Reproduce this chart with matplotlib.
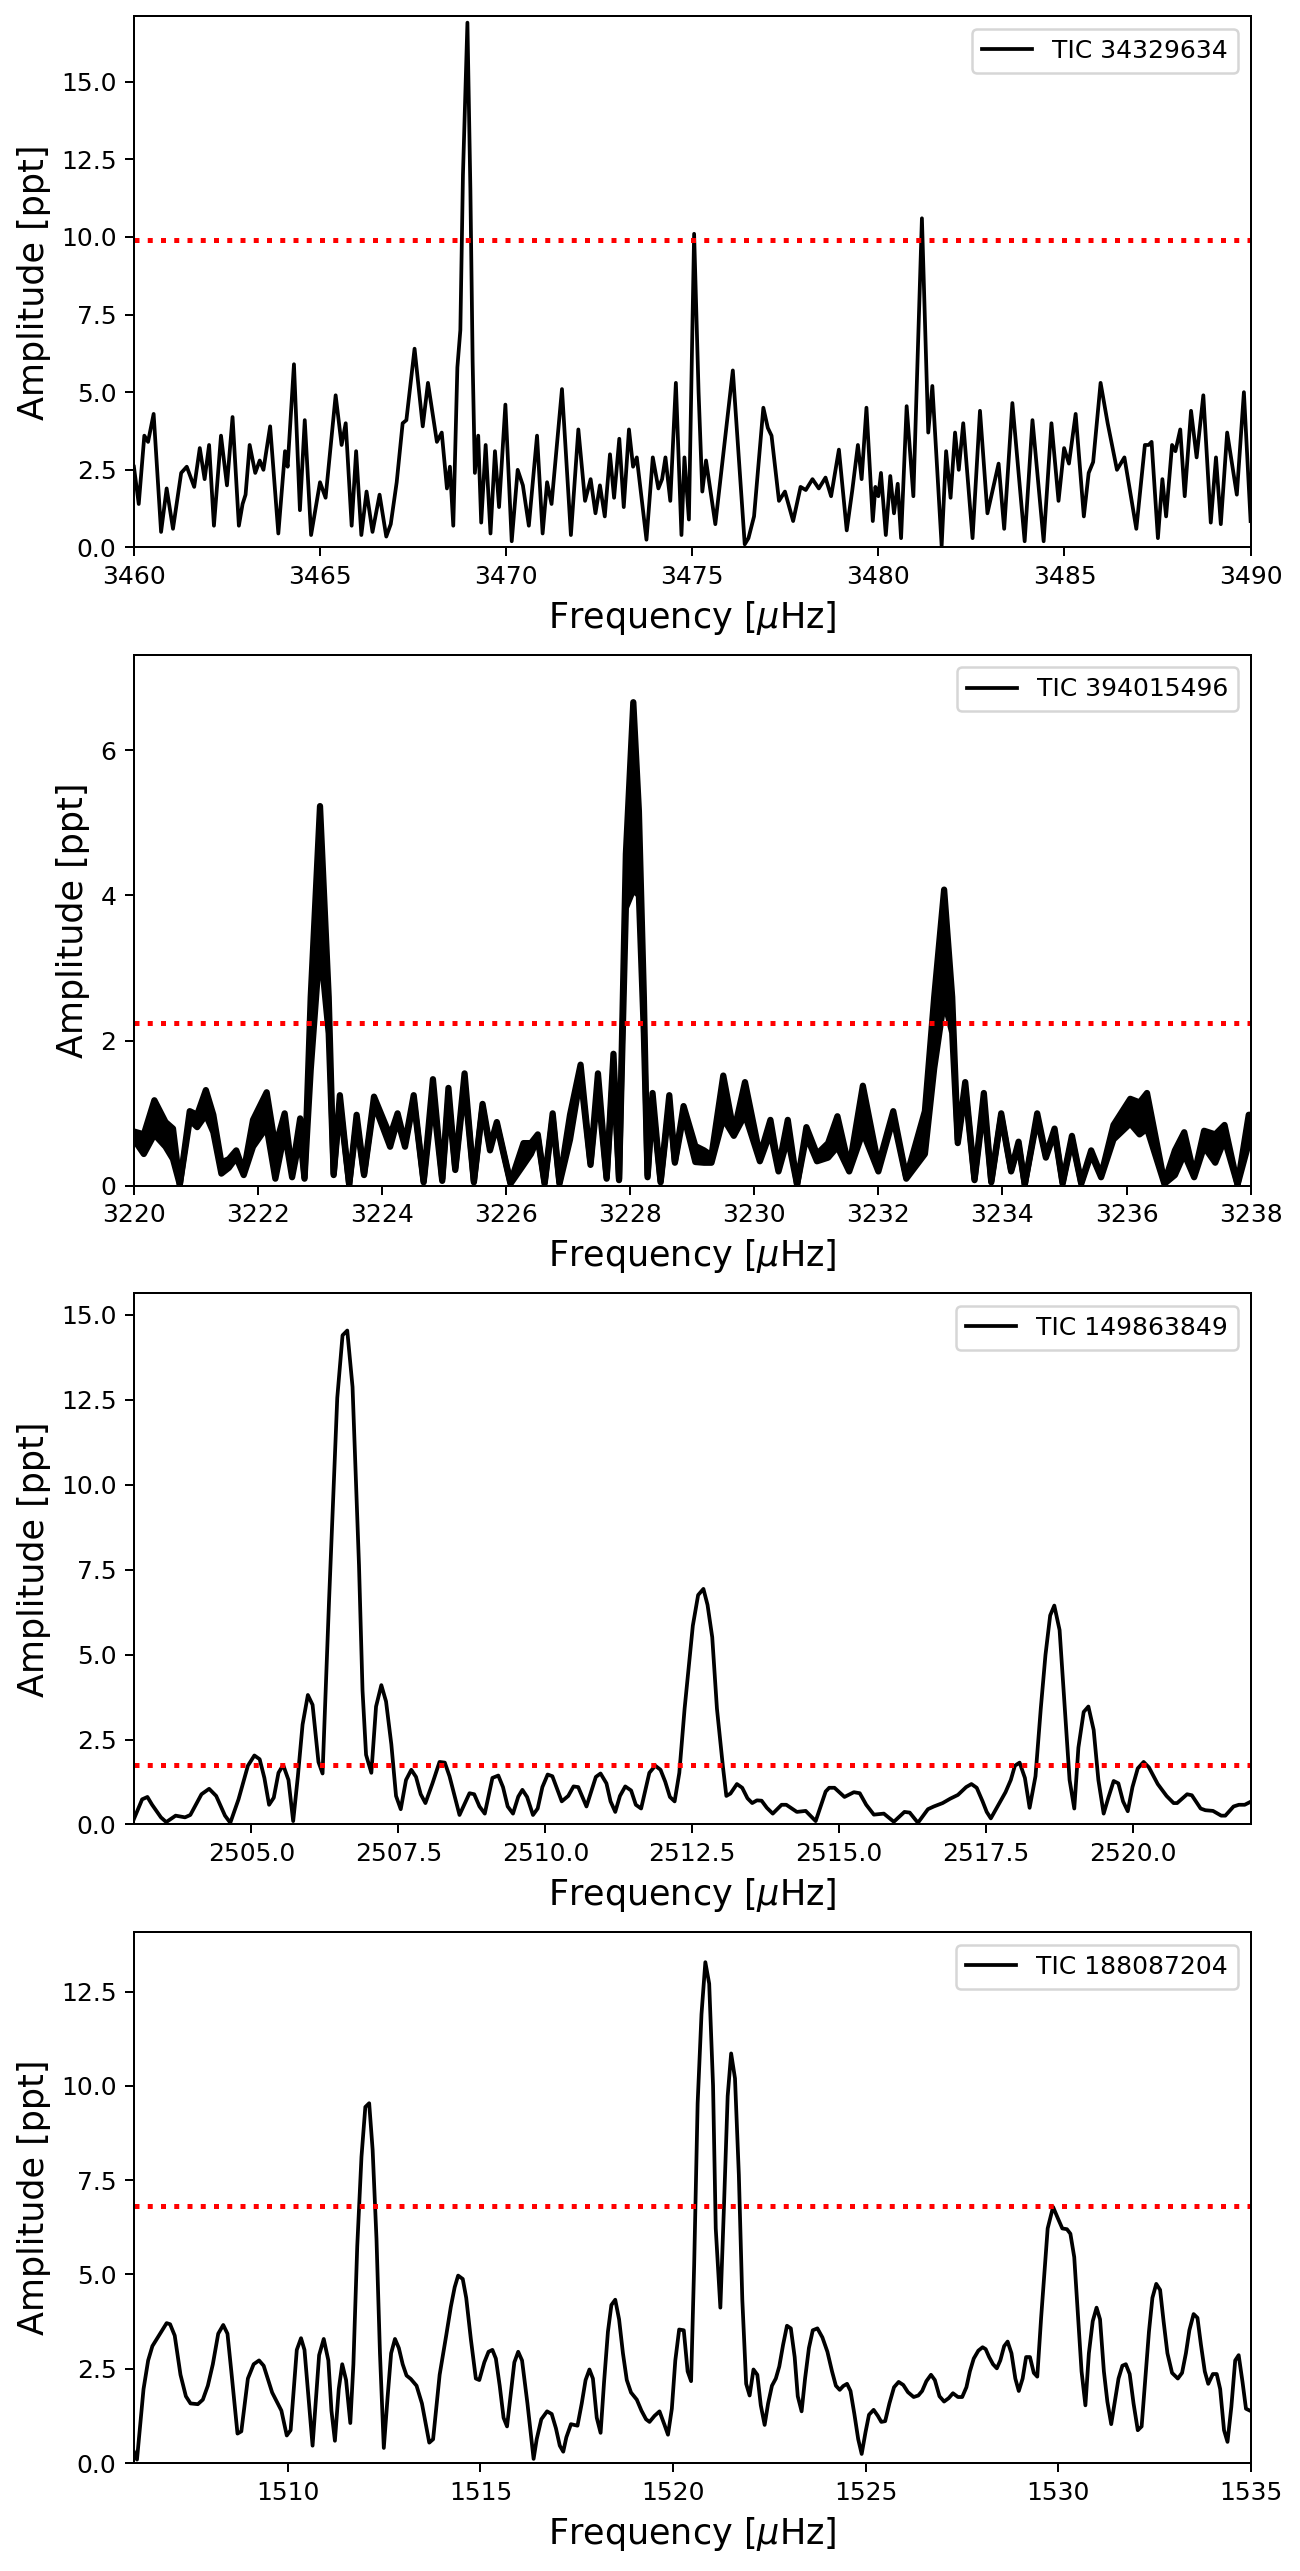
import matplotlib
matplotlib.use("Agg")
import matplotlib.pyplot as plt
from matplotlib.ticker import MultipleLocator

# ---------------- Panel 1: TIC 34329634 ----------------
p1_label = "TIC 34329634"
p1_freq = [3460.00, 3460.13, 3460.28, 3460.38, 3460.53, 3460.73, 3460.88, 3461.05, 3461.27, 3461.42,
           3461.62, 3461.77, 3461.90, 3462.02, 3462.15, 3462.34, 3462.50, 3462.65, 3462.82, 3462.92,
           3463.00, 3463.11, 3463.26, 3463.38, 3463.48, 3463.66, 3463.88, 3464.06, 3464.13, 3464.30,
           3464.46, 3464.59, 3464.76, 3465.00, 3465.15, 3465.42, 3465.58, 3465.69, 3465.85, 3465.97,
           3466.11, 3466.25, 3466.41, 3466.60, 3466.78, 3466.90, 3467.06, 3467.22, 3467.32, 3467.54,
           3467.76, 3467.90, 3468.14, 3468.27, 3468.41, 3468.49, 3468.58, 3468.69, 3468.77, 3468.84,
           3468.96, 3469.04, 3469.10, 3469.16, 3469.25, 3469.33, 3469.45, 3469.58, 3469.70, 3469.81,
           3469.98, 3470.15, 3470.31, 3470.45, 3470.61, 3470.83, 3470.98, 3471.10, 3471.22, 3471.50,
           3471.74, 3471.94, 3472.12, 3472.27, 3472.40, 3472.52, 3472.65, 3472.79, 3472.90, 3473.04,
           3473.16, 3473.30, 3473.41, 3473.51, 3473.77, 3473.94, 3474.09, 3474.19, 3474.28, 3474.41,
           3474.56, 3474.71, 3474.79, 3474.91, 3475.05, 3475.17, 3475.27, 3475.37, 3475.62, 3476.09,
           3476.41, 3476.51, 3476.66, 3476.91, 3477.03, 3477.13, 3477.33, 3477.49, 3477.71, 3477.91,
           3478.05, 3478.23, 3478.40, 3478.58, 3478.73, 3478.94, 3479.15, 3479.30, 3479.45, 3479.55,
           3479.68, 3479.85, 3479.92, 3480.00, 3480.07, 3480.20, 3480.32, 3480.42, 3480.52, 3480.61,
           3480.76, 3480.94, 3481.17, 3481.34, 3481.45, 3481.70, 3481.82, 3481.94, 3482.06, 3482.16,
           3482.28, 3482.53, 3482.73, 3482.93, 3483.23, 3483.38, 3483.60, 3483.93, 3484.14, 3484.44,
           3484.65, 3484.84, 3484.99, 3485.12, 3485.30, 3485.52, 3485.65, 3485.77, 3485.97, 3486.16,
           3486.41, 3486.61, 3486.93, 3487.16, 3487.26, 3487.34, 3487.51, 3487.63, 3487.73, 3487.89,
           3487.98, 3488.11, 3488.23, 3488.40, 3488.55, 3488.73, 3488.93, 3489.07, 3489.20, 3489.37,
           3489.63, 3489.82, 3490.00]
p1_amp = [2.60, 1.40, 3.60, 3.40, 4.30, 0.50, 1.90, 0.60, 2.40, 2.60,
          1.95, 3.20, 2.20, 3.30, 0.70, 3.60, 2.00, 4.20, 0.70, 1.40,
          1.70, 3.30, 2.40, 2.80, 2.50, 3.90, 0.45, 3.10, 2.60, 5.90,
          1.20, 4.10, 0.40, 2.10, 1.60, 4.90, 3.30, 4.00, 0.70, 3.10,
          0.40, 1.80, 0.50, 1.70, 0.35, 0.75, 2.10, 4.00, 4.10, 6.40,
          3.90, 5.30, 3.40, 3.70, 1.90, 2.60, 0.70, 5.80, 7.00, 12.00,
          16.90, 11.50, 6.00, 2.40, 3.60, 0.80, 3.30, 0.45, 3.10, 1.30,
          4.60, 0.20, 2.50, 2.00, 0.70, 3.60, 0.45, 2.10, 1.40, 5.10,
          0.40, 3.80, 1.50, 2.20, 1.10, 2.00, 1.00, 3.00, 1.60, 3.50,
          1.30, 3.80, 2.60, 2.90, 0.25, 2.90, 1.90, 2.20, 2.90, 1.50,
          5.30, 0.40, 2.90, 0.90, 10.10, 5.00, 1.80, 2.80, 0.75, 5.70,
          0.10, 0.30, 1.00, 4.50, 3.85, 3.60, 1.50, 1.80, 0.85, 1.95,
          1.85, 2.20, 1.90, 2.25, 1.65, 3.15, 0.55, 1.85, 3.30, 2.20,
          4.50, 0.85, 1.95, 1.65, 2.40, 0.40, 2.30, 1.10, 2.05, 0.30,
          4.55, 1.65, 10.60, 3.70, 5.20, 0.05, 3.10, 1.60, 3.70, 2.50,
          4.00, 0.30, 4.40, 1.10, 2.70, 0.60, 4.65, 0.20, 4.10, 0.20,
          4.00, 1.50, 3.20, 2.70, 4.30, 1.00, 2.40, 2.75, 5.30, 4.00,
          2.50, 2.90, 0.60, 3.30, 3.30, 3.40, 0.30, 2.20, 1.00, 3.30,
          3.10, 3.80, 1.65, 4.40, 2.90, 4.90, 0.80, 2.90, 0.75, 3.70,
          1.70, 5.00, 0.85]
p1_threshold = 9.89
p1_xlim = (3460, 3490)
p1_ylim = (0, 17.1)

# ---------------- Panel 2: TIC 394015496 (thick band: upper / lower envelopes) ----------------
p2_label = "TIC 394015496"
p2_freq = [3220.00, 3220.16, 3220.33, 3220.51, 3220.63, 3220.74, 3220.90, 3221.02, 3221.16, 3221.28,
           3221.41, 3221.53, 3221.65, 3221.77, 3221.92, 3222.14, 3222.28, 3222.43, 3222.55, 3222.68,
           3222.75, 3222.85, 3223.00, 3223.14, 3223.22, 3223.32, 3223.47, 3223.59, 3223.71, 3223.87,
           3224.13, 3224.25, 3224.37, 3224.51, 3224.67, 3224.82, 3224.97, 3225.07, 3225.18, 3225.33,
           3225.48, 3225.62, 3225.74, 3225.85, 3226.07, 3226.28, 3226.40, 3226.51, 3226.62, 3226.75,
           3226.86, 3227.03, 3227.20, 3227.36, 3227.48, 3227.62, 3227.73, 3227.82, 3227.93, 3228.05,
           3228.14, 3228.22, 3228.28, 3228.36, 3228.49, 3228.63, 3228.72, 3228.86, 3229.05, 3229.19,
           3229.31, 3229.50, 3229.67, 3229.85, 3230.09, 3230.26, 3230.39, 3230.54, 3230.69, 3230.84,
           3231.01, 3231.19, 3231.34, 3231.53, 3231.75, 3232.00, 3232.24, 3232.45, 3232.75, 3232.90,
           3233.06, 3233.19, 3233.28, 3233.40, 3233.55, 3233.70, 3233.82, 3233.98, 3234.14, 3234.26,
           3234.36, 3234.56, 3234.70, 3234.84, 3234.97, 3235.12, 3235.27, 3235.43, 3235.59, 3235.79,
           3236.06, 3236.21, 3236.33, 3236.61, 3236.78, 3236.93, 3237.09, 3237.25, 3237.43, 3237.58,
           3237.79, 3237.97, 3238.00]
p2_upper = [0.75, 0.71, 1.18, 0.88, 0.79, 0.02, 1.03, 0.98, 1.32, 0.98,
            0.32, 0.37, 0.49, 0.20, 0.91, 1.29, 0.54, 1.00, 0.20, 0.93,
            0.12, 2.60, 5.23, 2.60, 0.17, 1.25, 0.02, 0.98, 0.17, 1.23,
            0.69, 1.00, 0.59, 1.25, 0.07, 1.47, 0.10, 1.35, 0.25, 1.55,
            0.07, 1.13, 0.54, 0.88, 0.05, 0.59, 0.59, 0.71, 0.05, 1.00,
            0.05, 0.98, 1.67, 0.32, 1.55, 0.12, 1.82, 0.10, 4.57, 6.66,
            5.16, 2.60, 0.15, 1.28, 0.07, 1.25, 0.34, 1.10, 0.55, 0.49,
            0.42, 1.52, 0.74, 1.43, 0.42, 0.91, 0.25, 0.91, 0.02, 0.81,
            0.44, 0.59, 0.96, 0.25, 1.38, 0.29, 1.03, 0.12, 1.03, 2.60,
            4.08, 2.60, 0.64, 1.43, 0.10, 1.28, 0.07, 1.00, 0.22, 0.61,
            0.02, 1.00, 0.42, 0.79, 0.05, 0.69, 0.05, 0.49, 0.15, 0.84,
            1.20, 1.15, 1.28, 0.05, 0.49, 0.74, 0.15, 0.76, 0.71, 0.84,
            0.02, 0.98, 0.98]
p2_lower = [0.64, 0.44, 0.71, 0.54, 0.37, 0.02, 0.91, 0.81, 0.98, 0.74,
            0.17, 0.25, 0.39, 0.15, 0.54, 0.81, 0.10, 0.74, 0.12, 0.69,
            0.10, 1.60, 3.34, 2.10, 0.15, 1.13, 0.02, 0.88, 0.15, 1.13,
            0.54, 0.91, 0.54, 1.18, 0.05, 1.23, 0.07, 1.20, 0.22, 1.40,
            0.05, 1.08, 0.49, 0.84, 0.03, 0.29, 0.44, 0.66, 0.03, 0.93,
            0.03, 0.64, 1.52, 0.29, 1.33, 0.10, 1.62, 0.08, 3.83, 4.08,
            4.00, 2.10, 0.12, 1.13, 0.05, 1.13, 0.32, 0.98, 0.33, 0.32,
            0.32, 0.93, 0.69, 0.98, 0.34, 0.74, 0.20, 0.66, 0.02, 0.69,
            0.34, 0.39, 0.54, 0.20, 0.74, 0.20, 0.93, 0.10, 0.44, 1.62,
            2.56, 2.11, 0.59, 1.33, 0.08, 1.13, 0.05, 0.96, 0.20, 0.56,
            0.02, 0.93, 0.39, 0.74, 0.03, 0.64, 0.03, 0.44, 0.12, 0.64,
            0.86, 0.71, 0.79, 0.03, 0.15, 0.44, 0.12, 0.54, 0.32, 0.64,
            0.02, 0.59, 0.60]
p2_threshold = 2.245
p2_xlim = (3220, 3238)
p2_ylim = (0, 7.31)

# ---------------- Panel 3: TIC 149863849 ----------------
p3_label = "TIC 149863849"
p3_freq = [2503.00, 2503.14, 2503.23, 2503.31, 2503.46, 2503.55, 2503.71, 2503.87, 2503.96, 2504.15,
           2504.28, 2504.40, 2504.55, 2504.64, 2504.78, 2504.94, 2505.05, 2505.14, 2505.22, 2505.30,
           2505.38, 2505.46, 2505.54, 2505.63, 2505.71, 2505.79, 2505.87, 2505.96, 2506.04, 2506.14,
           2506.21, 2506.32, 2506.46, 2506.55, 2506.63, 2506.72, 2506.83, 2506.89, 2506.95, 2507.04,
           2507.12, 2507.21, 2507.29, 2507.38, 2507.46, 2507.54, 2507.63, 2507.72, 2507.80, 2507.88,
           2507.96, 2508.08, 2508.20, 2508.29, 2508.37, 2508.54, 2508.71, 2508.79, 2508.88, 2508.97,
           2509.10, 2509.20, 2509.28, 2509.36, 2509.45, 2509.54, 2509.61, 2509.69, 2509.79, 2509.87,
           2509.95, 2510.04, 2510.12, 2510.28, 2510.39, 2510.48, 2510.56, 2510.70, 2510.86, 2510.94,
           2511.04, 2511.11, 2511.19, 2511.27, 2511.36, 2511.46, 2511.54, 2511.63, 2511.77, 2511.87,
           2511.96, 2512.04, 2512.12, 2512.20, 2512.28, 2512.37, 2512.51, 2512.60, 2512.69, 2512.76,
           2512.84, 2512.92, 2513.02, 2513.08, 2513.15, 2513.26, 2513.35, 2513.44, 2513.52, 2513.60,
           2513.68, 2513.77, 2513.87, 2514.02, 2514.10, 2514.28, 2514.43, 2514.60, 2514.77, 2514.83,
           2514.92, 2515.09, 2515.25, 2515.35, 2515.46, 2515.59, 2515.76, 2515.93, 2516.11, 2516.20,
           2516.34, 2516.51, 2516.61, 2516.76, 2516.89, 2517.02, 2517.16, 2517.25, 2517.34, 2517.44,
           2517.51, 2517.58, 2517.71, 2517.83, 2517.92, 2517.99, 2518.07, 2518.16, 2518.24, 2518.34,
           2518.43, 2518.51, 2518.59, 2518.66, 2518.75, 2518.84, 2518.92, 2519.00, 2519.07, 2519.16,
           2519.24, 2519.33, 2519.41, 2519.50, 2519.58, 2519.67, 2519.75, 2519.83, 2519.91, 2519.99,
           2520.08, 2520.18, 2520.27, 2520.42, 2520.57, 2520.69, 2520.75, 2520.92, 2521.00, 2521.15,
           2521.23, 2521.36, 2521.50, 2521.57, 2521.71, 2521.80, 2521.90, 2521.99]
p3_amp = [0.16, 0.74, 0.81, 0.58, 0.21, 0.07, 0.26, 0.21, 0.28, 0.89,
          1.05, 0.84, 0.26, 0.05, 0.74, 1.73, 2.03, 1.92, 1.37, 0.58,
          0.79, 1.52, 1.75, 1.31, 0.10, 1.42, 2.94, 3.81, 3.52, 1.84,
          1.50, 6.57, 12.55, 14.39, 14.53, 12.87, 7.62, 3.94, 2.05, 1.52,
          3.47, 4.10, 3.62, 2.36, 0.84, 0.45, 1.31, 1.61, 1.40, 0.89,
          0.63, 1.21, 1.84, 1.82, 1.42, 0.28, 0.92, 0.89, 0.53, 0.32,
          1.37, 1.44, 1.10, 0.53, 0.32, 0.82, 1.02, 0.81, 0.28, 0.47,
          1.10, 1.47, 1.42, 0.68, 0.84, 1.12, 1.10, 0.53, 1.40, 1.50,
          1.21, 0.68, 0.37, 0.84, 1.12, 1.00, 0.58, 0.47, 1.52, 1.73,
          1.61, 1.26, 0.81, 0.68, 1.52, 3.41, 5.85, 6.75, 6.93, 6.46,
          5.51, 3.41, 1.73, 0.84, 0.91, 1.19, 1.08, 0.77, 0.63, 0.71,
          0.70, 0.49, 0.32, 0.58, 0.58, 0.37, 0.40, 0.10, 0.97, 1.08,
          1.08, 0.81, 0.95, 0.92, 0.58, 0.29, 0.32, 0.08, 0.37, 0.35,
          0.05, 0.45, 0.53, 0.63, 0.76, 0.87, 1.10, 1.19, 1.08, 0.68,
          0.37, 0.18, 0.58, 0.95, 1.31, 1.73, 1.82, 1.37, 0.49, 1.42,
          3.41, 4.99, 6.15, 6.44, 5.72, 3.41, 1.31, 0.47, 2.26, 3.31,
          3.47, 2.78, 1.31, 0.32, 0.79, 1.28, 1.21, 0.68, 0.39, 1.10,
          1.65, 1.84, 1.68, 1.19, 0.84, 0.63, 0.63, 0.89, 0.86, 0.47,
          0.42, 0.40, 0.26, 0.26, 0.53, 0.58, 0.58, 0.66]
p3_threshold = 1.75
p3_xlim = (2503, 2522)
p3_ylim = (0, 15.62)

# ---------------- Panel 4: TIC 188087204 ----------------
p4_label = "TIC 188087204"
p4_freq = [1506.00, 1506.08, 1506.25, 1506.37, 1506.48, 1506.65, 1506.85, 1506.94, 1507.06, 1507.21,
           1507.35, 1507.47, 1507.66, 1507.79, 1507.92, 1508.05, 1508.19, 1508.32, 1508.43, 1508.53,
           1508.69, 1508.79, 1508.96, 1509.11, 1509.25, 1509.37, 1509.59, 1509.71, 1509.83, 1509.97,
           1510.07, 1510.23, 1510.34, 1510.43, 1510.64, 1510.81, 1510.93, 1511.05, 1511.13, 1511.22,
           1511.32, 1511.41, 1511.51, 1511.62, 1511.70, 1511.80, 1511.91, 1512.01, 1512.11, 1512.20,
           1512.30, 1512.39, 1512.49, 1512.59, 1512.68, 1512.78, 1512.88, 1512.98, 1513.08, 1513.19,
           1513.34, 1513.48, 1513.67, 1513.77, 1513.94, 1514.11, 1514.23, 1514.33, 1514.42, 1514.54,
           1514.63, 1514.75, 1514.88, 1514.97, 1515.10, 1515.21, 1515.31, 1515.40, 1515.50, 1515.60,
           1515.69, 1515.79, 1515.88, 1515.98, 1516.08, 1516.22, 1516.38, 1516.46, 1516.58, 1516.73,
           1516.85, 1516.96, 1517.06, 1517.15, 1517.23, 1517.35, 1517.52, 1517.63, 1517.73, 1517.83,
           1517.92, 1518.02, 1518.12, 1518.21, 1518.31, 1518.40, 1518.50, 1518.60, 1518.70, 1518.80,
           1518.91, 1519.06, 1519.18, 1519.30, 1519.39, 1519.52, 1519.65, 1519.78, 1519.87, 1519.97,
           1520.06, 1520.16, 1520.28, 1520.38, 1520.47, 1520.55, 1520.64, 1520.74, 1520.84, 1520.94,
           1521.04, 1521.11, 1521.23, 1521.32, 1521.42, 1521.51, 1521.61, 1521.71, 1521.80, 1521.90,
           1521.99, 1522.09, 1522.19, 1522.28, 1522.38, 1522.47, 1522.57, 1522.67, 1522.76, 1522.86,
           1522.96, 1523.06, 1523.16, 1523.24, 1523.34, 1523.43, 1523.53, 1523.63, 1523.75, 1523.88,
           1524.01, 1524.13, 1524.23, 1524.33, 1524.42, 1524.52, 1524.61, 1524.71, 1524.81, 1524.90,
           1525.00, 1525.09, 1525.21, 1525.32, 1525.41, 1525.51, 1525.62, 1525.74, 1525.86, 1525.98,
           1526.10, 1526.25, 1526.37, 1526.47, 1526.58, 1526.70, 1526.80, 1526.92, 1527.04, 1527.16,
           1527.27, 1527.40, 1527.51, 1527.62, 1527.71, 1527.81, 1527.93, 1528.04, 1528.12, 1528.21,
           1528.31, 1528.41, 1528.50, 1528.60, 1528.69, 1528.79, 1528.89, 1528.98, 1529.08, 1529.17,
           1529.27, 1529.37, 1529.46, 1529.56, 1529.73, 1529.87, 1529.99, 1530.11, 1530.23, 1530.32,
           1530.42, 1530.52, 1530.61, 1530.71, 1530.80, 1530.90, 1531.00, 1531.09, 1531.19, 1531.28,
           1531.38, 1531.48, 1531.57, 1531.67, 1531.76, 1531.86, 1531.96, 1532.07, 1532.17, 1532.26,
           1532.36, 1532.45, 1532.55, 1532.65, 1532.74, 1532.84, 1532.96, 1533.11, 1533.22, 1533.32,
           1533.41, 1533.52, 1533.62, 1533.71, 1533.81, 1533.90, 1534.02, 1534.12, 1534.21, 1534.31,
           1534.40, 1534.50, 1534.60, 1534.69, 1534.79, 1534.88, 1534.98]
p4_amp = [0.30, 0.09, 1.96, 2.72, 3.10, 3.38, 3.71, 3.68, 3.38, 2.34,
          1.77, 1.58, 1.56, 1.68, 2.05, 2.62, 3.43, 3.66, 3.43, 2.43,
          0.78, 0.84, 2.24, 2.62, 2.72, 2.58, 1.87, 1.63, 1.39, 0.73,
          0.87, 3.00, 3.31, 3.00, 0.46, 2.86, 3.29, 2.72, 1.39, 0.59,
          1.96, 2.62, 2.20, 1.06, 2.62, 5.75, 8.12, 9.44, 9.54, 8.30,
          5.94, 2.91, 0.40, 1.77, 2.91, 3.29, 3.05, 2.62, 2.32, 2.23,
          2.05, 1.58, 0.54, 0.63, 2.34, 3.38, 4.14, 4.66, 4.97, 4.88,
          4.38, 3.29, 2.24, 2.20, 2.67, 2.95, 3.00, 2.77, 2.05, 1.20,
          0.97, 1.87, 2.67, 2.95, 2.72, 1.58, 0.11, 0.63, 1.16, 1.37,
          1.30, 0.92, 0.46, 0.30, 0.68, 1.03, 0.99, 1.58, 2.20, 2.48,
          2.24, 1.20, 0.80, 2.15, 3.48, 4.19, 4.33, 3.81, 2.91, 2.20,
          1.87, 1.68, 1.39, 1.16, 1.09, 1.25, 1.37, 1.01, 0.75, 1.44,
          2.72, 3.54, 3.52, 2.43, 2.17, 5.27, 9.54, 11.90, 13.28, 12.71,
          10.01, 6.22, 4.12, 6.70, 9.73, 10.86, 10.20, 7.64, 4.33, 2.10,
          1.79, 2.48, 2.34, 1.53, 1.01, 1.58, 2.05, 2.24, 2.56, 3.14,
          3.64, 3.57, 2.81, 1.77, 1.37, 2.24, 3.05, 3.52, 3.57, 3.33,
          2.95, 2.43, 2.05, 1.94, 2.04, 2.10, 1.91, 1.30, 0.63, 0.24,
          0.82, 1.28, 1.41, 1.25, 1.09, 1.11, 1.58, 2.01, 2.15, 2.07,
          1.88, 1.75, 1.79, 1.91, 2.17, 2.34, 2.20, 1.77, 1.63, 1.72,
          1.85, 1.75, 1.75, 2.01, 2.43, 2.77, 2.98, 3.07, 3.02, 2.81,
          2.62, 2.51, 2.72, 3.10, 3.22, 2.91, 2.24, 1.91, 2.24, 2.81,
          2.81, 2.39, 2.29, 3.85, 6.22, 6.79, 6.50, 6.22, 6.20, 6.08,
          5.46, 3.85, 2.43, 1.53, 2.91, 3.76, 4.12, 3.81, 2.43, 1.63,
          1.03, 1.66, 2.24, 2.58, 2.62, 2.36, 1.58, 0.87, 0.97, 2.15,
          3.48, 4.38, 4.75, 4.59, 3.76, 2.91, 2.39, 2.24, 2.39, 2.91,
          3.52, 3.95, 3.85, 3.14, 2.43, 2.10, 2.36, 2.36, 1.96, 0.87,
          0.56, 1.49, 2.72, 2.86, 2.15, 1.44, 1.39]
p4_threshold = 6.81
p4_xlim = (1506, 1535)
p4_ylim = (0, 14.08)

# ---------------- Figure ----------------
DPI = 180
fig, axes = plt.subplots(4, 1, figsize=(1300 / DPI, 2571 / DPI), dpi=DPI)
fig.subplots_adjust(left=0.103, right=0.962, top=0.9936, bottom=0.042, hspace=0.2025)

xlabel = r"Frequency [$\mu$Hz]"
ylabel = "Amplitude [ppt]"

# Panel 1
ax = axes[0]
ax.plot(p1_freq, p1_amp, color="k", lw=1.5, label=p1_label)
ax.axhline(p1_threshold, color="r", ls=":", lw=2)
ax.set_xlim(*p1_xlim)
ax.set_ylim(*p1_ylim)
ax.yaxis.set_major_locator(MultipleLocator(2.5))

# Panel 2
ax = axes[1]
ax.fill_between(p2_freq, p2_lower, p2_upper, color="k", lw=0)
ax.plot(p2_freq, p2_lower, color="k", lw=2.5)
ax.plot(p2_freq, p2_upper, color="k", lw=2.5)
ax.plot([], [], color="k", lw=1.5, label=p2_label)
ax.axhline(p2_threshold, color="r", ls=":", lw=2)
ax.set_xlim(*p2_xlim)
ax.set_ylim(*p2_ylim)
ax.xaxis.set_major_locator(MultipleLocator(2))
ax.yaxis.set_major_locator(MultipleLocator(2))

# Panel 3
ax = axes[2]
ax.plot(p3_freq, p3_amp, color="k", lw=1.5, label=p3_label)
ax.axhline(p3_threshold, color="r", ls=":", lw=2)
ax.set_xlim(*p3_xlim)
ax.set_ylim(*p3_ylim)
ax.xaxis.set_major_locator(MultipleLocator(2.5))
ax.yaxis.set_major_locator(MultipleLocator(2.5))

# Panel 4
ax = axes[3]
ax.plot(p4_freq, p4_amp, color="k", lw=1.5, label=p4_label)
ax.axhline(p4_threshold, color="r", ls=":", lw=2)
ax.set_xlim(*p4_xlim)
ax.set_ylim(*p4_ylim)
ax.xaxis.set_major_locator(MultipleLocator(5))
ax.yaxis.set_major_locator(MultipleLocator(2.5))

for ax in axes:
    ax.set_xlabel(xlabel, fontsize=14)
    ax.set_ylabel(ylabel, fontsize=14)
    ax.tick_params(labelsize=10)
    ax.legend(loc="upper right", fontsize=10)

fig.savefig("out.png", dpi=DPI)
